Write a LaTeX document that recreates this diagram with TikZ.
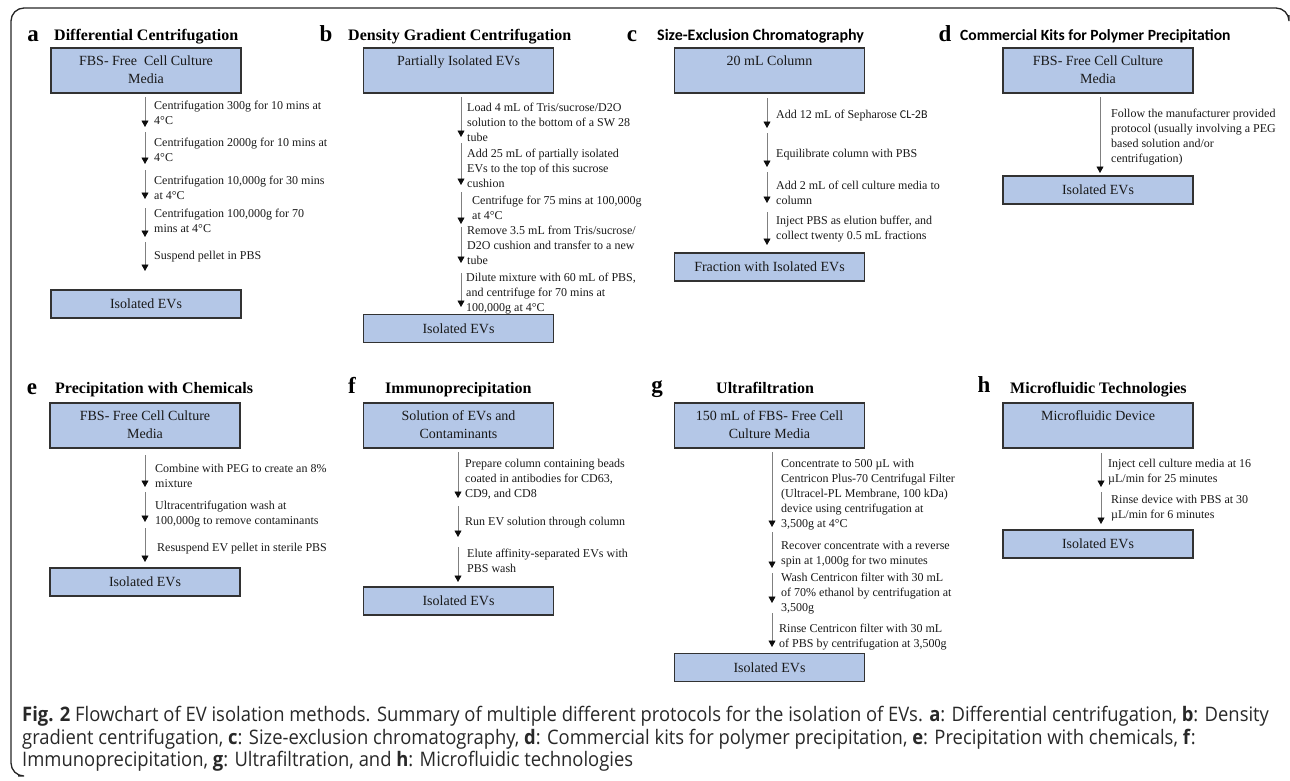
\documentclass[tikz,border=0pt]{standalone}
\usepackage{fontspec}
\setmainfont{Liberation Serif}
\newfontfamily\calfont{Carlito}
\newfontfamily\capfont[FakeStretch=0.92]{Open Sans}
\usetikzlibrary{arrows.meta}
\definecolor{boxblue}{RGB}{180,199,231}
\definecolor{boxline}{RGB}{50,50,50}
\definecolor{captext}{RGB}{40,40,40}
\tikzset{
  frameline/.style={line width=1.3pt, draw=black!85, rounded corners=13pt},
  pletter/.style={font=\fontsize{23}{24}\selectfont\bfseries, inner sep=0pt, anchor=base},
  ptitle/.style={font=\fontsize{16}{18}\selectfont\bfseries, inner sep=0pt, anchor=base west},
  stitle/.style={font=\calfont\fontsize{16}{18}\selectfont\bfseries, inner sep=0pt, anchor=base west},
  bigbox/.style={draw=boxline, fill=boxblue, line width=1.1pt, minimum width=190pt, minimum height=45pt,
    inner sep=0pt, align=center, font=\fontsize{14}{18}\selectfont, text=black!90},
  smallbox/.style={draw=boxline, fill=boxblue, line width=1.1pt, minimum width=190pt, minimum height=28pt,
    inner sep=0pt, align=center, font=\fontsize{14}{18}\selectfont, text=black!90},
  steplabel/.style={font=\fontsize{12}{15}\selectfont, inner sep=0pt, align=left, anchor=north west, text=black!90},
  flowarrow/.style={draw=black!50, line width=0.9pt, -{Triangle[length=6.5pt,width=7pt,color=black!95]}},
  caption/.style={font=\capfont\fontsize{20}{22.5}\selectfont, text=captext, inner sep=0pt, align=left, anchor=north west}
}
% name, arrow x, start y, end y, label x, first-line centre y, text
\newcommand{\flowstep}[7]{%
  \coordinate (#1s) at (#2,#3);
  \coordinate (#1e) at (#2,#4);
  \draw[flowarrow] (#1s) -- (#1e);
  \node[steplabel] (#1l) at (#5,#6-4) {#7};
}
\begin{document}
\begin{tikzpicture}[x=1pt,y=-1pt]
\useasboundingbox (0,0) rectangle (1290,780);
% frame
\draw[frameline] (18,776) -- (11,776) -- (11,8) -- (1289,8) -- (1289,15);

% ---------------- a ----------------
\node[pletter] (la) at (33,41) {a};
\node[ptitle] (ta) at (54,40) {Differential Centrifugation};
\node[bigbox] (a1) at (146,70.5) {\strut FBS- Free\ \ Cell Culture\\\strut Media};
\flowstep{a1}{145}{97}{127}{154}{105}{Centrifugation 300g for 10 mins at\\4°C}
\flowstep{a2}{145}{132}{164}{154}{142}{Centrifugation 2000g for 10 mins at\\4°C}
\flowstep{a3}{145}{170}{199}{154}{180}{Centrifugation 10,000g for 30 mins\\at 4°C}
\flowstep{a4}{145}{208}{237}{154}{213}{Centrifugation 100,000g for 70\\mins at 4°C}
\flowstep{a5}{145}{242}{271}{154}{255}{Suspend pellet in PBS}
\node[smallbox] (a2) at (146,304) {Isolated EVs};

% ---------------- b ----------------
\node[pletter] (lb) at (326,41) {b};
\node[ptitle] (tb) at (348,40) {Density Gradient Centrifugation};
\node[bigbox] (b1) at (458.5,70.5) {\strut Partially Isolated EVs\\\strut};
\flowstep{b1}{461}{97}{137}{467}{107}{Load 4 mL of Tris/sucrose/D2O\\solution to the bottom of a SW 28\\tube}
\flowstep{b2}{461}{143}{185}{467}{153}{Add 25 mL of partially isolated\\EVs to the top of this sucrose\\cushion}
\flowstep{b3}{461}{192}{224}{472}{200}{Centrifuge for 75 mins at 100,000g\\at 4°C}
\flowstep{b4}{461}{227}{263}{467}{230}{Remove 3.5 mL from Tris/sucrose/\\D2O cushion and transfer to a new\\tube}
\flowstep{b5}{461}{273}{307}{466}{277}{Dilute mixture with 60 mL of PBS,\\and centrifuge for 70 mins at\\100,000g at 4°C}
\node[smallbox] (b2) at (458.5,328.5) {Isolated EVs};

% ---------------- c ----------------
\node[pletter] (lc) at (632,41) {c};
\node[stitle] (tc) at (657,40) {Size-Exclusion Chromatography};
\node[bigbox] (c1) at (769.5,70.5) {\strut 20 mL Column\\\strut};
\flowstep{c1}{767}{98}{128}{776}{114}{Add 12 mL of Sepharose {\calfont CL-2B}}
\flowstep{c2}{767}{133}{167}{776}{153}{Equilibrate column with PBS}
\flowstep{c3}{767}{172}{203}{776}{185}{Add 2 mL of cell culture media to\\column}
\flowstep{c4}{767}{212}{245}{776}{220}{Inject PBS as elution buffer, and\\collect twenty 0.5 mL fractions}
\node[smallbox] (c2) at (769.5,267) {Fraction with Isolated EVs};

% ---------------- d ----------------
\node[pletter] (ld) at (945,41) {d};
\node[stitle, font=\calfont\fontsize{15.6}{18}\selectfont\bfseries] (td) at (960,40) {Commercial Kits for Polymer Precipitation};
\node[bigbox] (d1) at (1098,70.5) {\strut FBS- Free Cell Culture\\\strut Media};
\flowstep{d1}{1100}{97}{173}{1111}{113}{Follow the manufacturer provided\\protocol (usually involving a PEG\\based solution and/or\\centrifugation)}
\node[smallbox] (d2) at (1098,190) {Isolated EVs};

% ---------------- e ----------------
\node[pletter] (le) at (32,394) {e};
\node[ptitle] (te) at (55,393) {Precipitation with Chemicals};
\node[bigbox] (e1) at (145,425.5) {\strut FBS- Free Cell Culture\\\strut Media};
\flowstep{e1}{145}{455}{487}{155}{468}{Combine with PEG to create an 8\%\\mixture}
\flowstep{e2}{145}{492}{522}{155}{505}{Ultracentrifugation wash at\\100,000g to remove contaminants}
\flowstep{e3}{145}{528}{562}{157}{547}{Resuspend EV pellet in sterile PBS}
\node[smallbox] (e2) at (145,582) {Isolated EVs};

% ---------------- f ----------------
\node[pletter] (lf) at (352,393) {f};
\node[ptitle] (tf) at (385,393) {Immunoprecipitation};
\node[bigbox] (f1) at (458.5,425.5) {\strut Solution of EVs and\\\strut Contaminants};
\flowstep{f1}{458}{452}{498}{465}{463}{Prepare column containing beads\\coated in antibodies for CD63,\\CD9, and CD8}
\flowstep{f2}{458}{506}{537}{465}{521}{Run EV solution through column}
\flowstep{f3}{458}{547}{582}{467}{553}{Elute affinity-separated EVs with\\PBS wash}
\node[smallbox] (f2) at (458.5,601) {Isolated EVs};

% ---------------- g ----------------
\node[pletter] (lg) at (657,392) {g};
\node[ptitle] (tg) at (716,393) {Ultrafiltration};
\node[bigbox] (g1) at (769.5,425.5) {\strut 150 mL of FBS- Free Cell\\\strut Culture Media};
\flowstep{g1}{772}{452}{527}{781}{463}{Concentrate to 500 µL with\\Centricon Plus-70 Centrifugal Filter\\(Ultracel-PL Membrane, 100 kDa)\\device using centrifugation at\\3,500g at 4°C}
\flowstep{g2}{772}{532}{568}{781}{545}{Recover concentrate with a reverse\\spin at 1,000g for two minutes}
\flowstep{g3}{772}{573}{603}{781}{577}{Wash Centricon filter with 30 mL\\of 70\% ethanol by centrifugation at\\3,500g}
\flowstep{g4}{772}{613}{647}{779}{628}{Rinse Centricon filter with 30 mL\\of PBS by centrifugation at 3,500g}
\node[smallbox] (g2) at (769.5,667.5) {Isolated EVs};

% ---------------- h ----------------
\node[pletter] (lh) at (984,392) {h};
\node[ptitle] (th) at (1010,393) {Microfluidic Technologies};
\node[bigbox] (h1) at (1098,425.5) {\strut Microfluidic Device\\\strut};
\flowstep{h1}{1101}{453}{487}{1108}{463}{Inject cell culture media at 16\\µL/min for 25 minutes}
\flowstep{h2}{1101}{492}{524}{1111}{499}{Rinse device with PBS at 30\\µL/min for 6 minutes}
\node[smallbox] (h2) at (1098,544) {Isolated EVs};

% ---------------- caption ----------------
\node[caption] (cap) at (22,706) {\textbf{Fig. 2} Flowchart of EV isolation methods. Summary of multiple different protocols for the isolation of EVs. \textbf{a}: Differential centrifugation, \textbf{b}: Density\\
gradient centrifugation, \textbf{c}: Size-exclusion chromatography, \textbf{d}: Commercial kits for polymer precipitation, \textbf{e}: Precipitation with chemicals, \textbf{f}:\\
Immunoprecipitation, \textbf{g}: Ultrafiltration, and \textbf{h}: Microfluidic technologies};
\end{tikzpicture}
\end{document}
